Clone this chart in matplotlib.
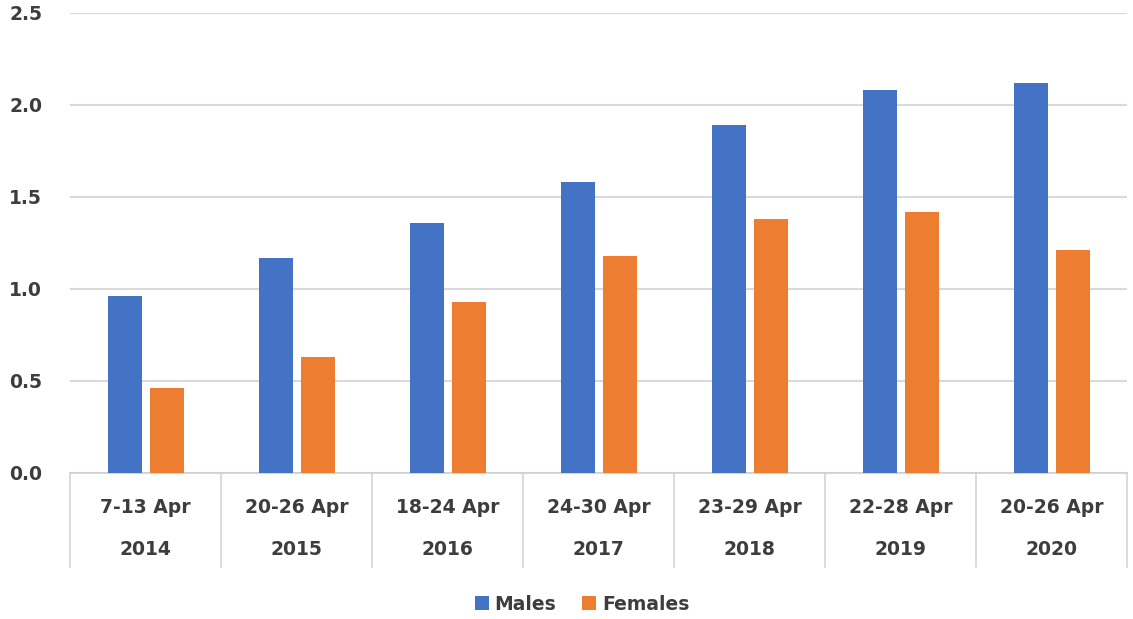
import matplotlib
matplotlib.use("Agg")
import matplotlib.pyplot as plt
import matplotlib.transforms as mtransforms
import numpy as np

# Weekly periods and values by sex
periods = ["7-13 Apr", "20-26 Apr", "18-24 Apr", "24-30 Apr", "23-29 Apr", "22-28 Apr", "20-26 Apr"]
years = ["2014", "2015", "2016", "2017", "2018", "2019", "2020"]
males = [0.96, 1.17, 1.36, 1.58, 1.89, 2.08, 2.12]
females = [0.46, 0.63, 0.93, 1.18, 1.38, 1.42, 1.21]
y_ticks = [0.0, 0.5, 1.0, 1.5, 2.0, 2.5]

BLUE = "#4472C4"
ORANGE = "#ED7D31"
TEXT = "#3d3d3d"
GRID = "#d9d9d9"
FONT = "DejaVu Sans"

fig = plt.figure(figsize=(11.33, 6.19), dpi=100)
ax = fig.add_axes([70 / 1133, 1 - 473 / 619, 1057 / 1133, 460 / 619])

x = np.arange(len(periods))
bw = 0.225
ax.bar(x - 0.138, males, width=bw, color=BLUE, label="Males", zorder=3)
ax.bar(x + 0.142, females, width=bw, color=ORANGE, label="Females", zorder=3)

ax.set_xlim(-0.5, len(periods) - 0.5)
ax.set_ylim(0, 2.5)
ax.set_yticks(y_ticks)
ax.set_yticklabels([f"{v:.1f}" for v in y_ticks], fontsize=13.5,
                   fontweight="bold", color=TEXT, family=FONT)
ax.tick_params(axis="y", length=0, pad=20)
ax.set_xticks([])

ax.yaxis.grid(True, color=GRID, linewidth=1.5, zorder=0)
for side in ("top", "right", "left"):
    ax.spines[side].set_visible(False)
ax.spines["bottom"].set_color("#cfcfcf")
ax.spines["bottom"].set_linewidth(1.2)

# Two-row category table under the axis
trans = mtransforms.blended_transform_factory(ax.transData, ax.transAxes)
for i, (p, yr) in enumerate(zip(periods, years)):
    ax.text(i, -0.074, p, transform=trans, ha="center", va="center",
            fontsize=13.5, fontweight="bold", color=TEXT, family=FONT)
    ax.text(i, -0.167, yr, transform=trans, ha="center", va="center",
            fontsize=13.5, fontweight="bold", color=TEXT, family=FONT)
for b in np.arange(len(periods) + 1) - 0.5:
    ax.plot([b, b], [0, -0.204], transform=trans, color="#d4d4d4",
            linewidth=1.2, clip_on=False)

leg = fig.legend(loc="center", bbox_to_anchor=(582 / 1133, 1 - 604 / 619),
                 ncol=2, frameon=False, handlelength=0.75, handleheight=0.75,
                 handletextpad=0.3, columnspacing=1.4,
                 prop={"family": FONT, "weight": "bold", "size": 13.5})
for t in leg.get_texts():
    t.set_color(TEXT)

fig.savefig("out.png", dpi=100, facecolor="white")
